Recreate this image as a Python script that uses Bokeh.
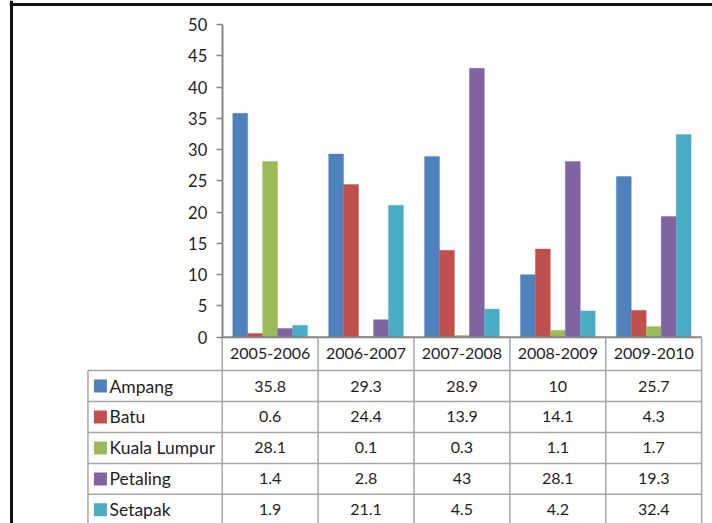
import numpy as np
from bokeh.plotting import figure
from bokeh.models import LinearAxis, FixedTicker, Range1d
from bokeh.core.properties import value
from bokeh.embed import file_html
from bokeh.resources import INLINE

# ---- data ----
categories = ["2005-2006", "2006-2007", "2007-2008", "2008-2009", "2009-2010"]
series_names = ["Ampang", "Batu", "Kuala Lumpur", "Petaling", "Setapak"]
ampang = [35.8, 29.3, 28.9, 10, 25.7]
batu = [0.6, 24.4, 13.9, 14.1, 4.3]
kuala_lumpur = [28.1, 0.1, 0.3, 1.1, 1.7]
petaling = [1.4, 2.8, 43, 28.1, 19.3]
setapak = [1.9, 21.1, 4.5, 4.2, 32.4]
y_ticks = [0, 5, 10, 15, 20, 25, 30, 35, 40, 45, 50]

series = [ampang, batu, kuala_lumpur, petaling, setapak]
colors = ["#4F81BD", "#C0504D", "#9BBB59", "#8064A2", "#4BACC6"]

FONT = value("Lato")
FS = value("16px")
FS_NAME = value("17.5px")
TXT = "#1E1E1E"
GRID = "#A6A6A6"

p = figure(width=712, height=523, output_backend="svg", toolbar_location=None,
           x_range=Range1d(-2.312, 5.113), y_range=Range1d(-29.79, 53.84),
           x_axis_location=None, y_axis_location=None,
           min_border=0, outline_line_color=None)
p.grid.visible = False

# ---- bars ----
n = len(categories)
bw = 0.156
idx = np.arange(n) + 0.5
for k, (vals, col) in enumerate(zip(series, colors)):
    p.vbar(x=idx + (k - 2) * bw, top=vals, bottom=0, width=bw,
           fill_color=col, line_color=col, line_alpha=0.35, line_width=1)

# ---- y axis ----
yax = LinearAxis(fixed_location=0, ticker=FixedTicker(ticks=y_ticks), bounds=(0, 50))
yax.axis_line_color = "#868686"
yax.axis_line_width = 2
yax.major_tick_line_color = "#868686"
yax.major_tick_line_width = 1.5
yax.major_tick_out = 6
yax.major_tick_in = 0
yax.minor_tick_line_color = None
yax.major_label_standoff = 9
yax.major_label_text_font = "Lato"
yax.major_label_text_font_size = "16.5px"
yax.major_label_text_color = TXT
p.add_layout(yax, "left")

# ---- data table ----
header_h = 5.33
row_h = 4.95
leg_left = -1.4
n_rows = len(series_names)
bottom = -header_h - row_h * (n_rows + 1)

# x axis line (top of table)
p.segment(x0=[0], y0=[0], x1=[n], y1=[0], line_color="#868686", line_width=2)
# vertical lines
p.segment(x0=list(range(n + 1)), y0=[0] * (n + 1), x1=list(range(n + 1)),
          y1=[bottom] * (n + 1), line_color=GRID, line_width=1.5)
p.segment(x0=[leg_left], y0=[-header_h], x1=[leg_left], y1=[bottom],
          line_color=GRID, line_width=1.5)
# horizontal lines
hy = [-header_h - row_h * r for r in range(n_rows + 1)]
p.segment(x0=[leg_left] * len(hy), y0=hy, x1=[n] * len(hy), y1=hy,
          line_color=GRID, line_width=1.5)

# header labels
p.text(x=idx, y=[-header_h / 2] * n, text=categories, text_font=FONT,
       text_font_size=FS, text_color=TXT, text_align="center", text_baseline="middle")

# rows
for r, (name, vals, col) in enumerate(zip(series_names, series, colors)):
    yc = -header_h - row_h * (r + 0.5)
    p.scatter(x=[leg_left + 0.13], y=[yc], marker="square", size=13,
              fill_color=col, line_color=None)
    p.text(x=[leg_left + 0.225], y=[yc], text=[name], text_font=FONT,
           text_font_size=FS_NAME, text_color=TXT, text_align="left", text_baseline="middle")
    p.text(x=idx, y=[yc] * n, text=[f"{v:g}" for v in vals], text_font=FONT,
           text_font_size=FS, text_color=TXT, text_align="center", text_baseline="middle")

# outer chart border (left and top)
p.segment(x0=[-2.197, -2.215], y0=[53.84, 53.2], x1=[-2.197, 5.113], y1=[-29.79, 53.2],
          line_color="#111111", line_width=3)

open("out.html", "w").write(file_html(p, INLINE))
